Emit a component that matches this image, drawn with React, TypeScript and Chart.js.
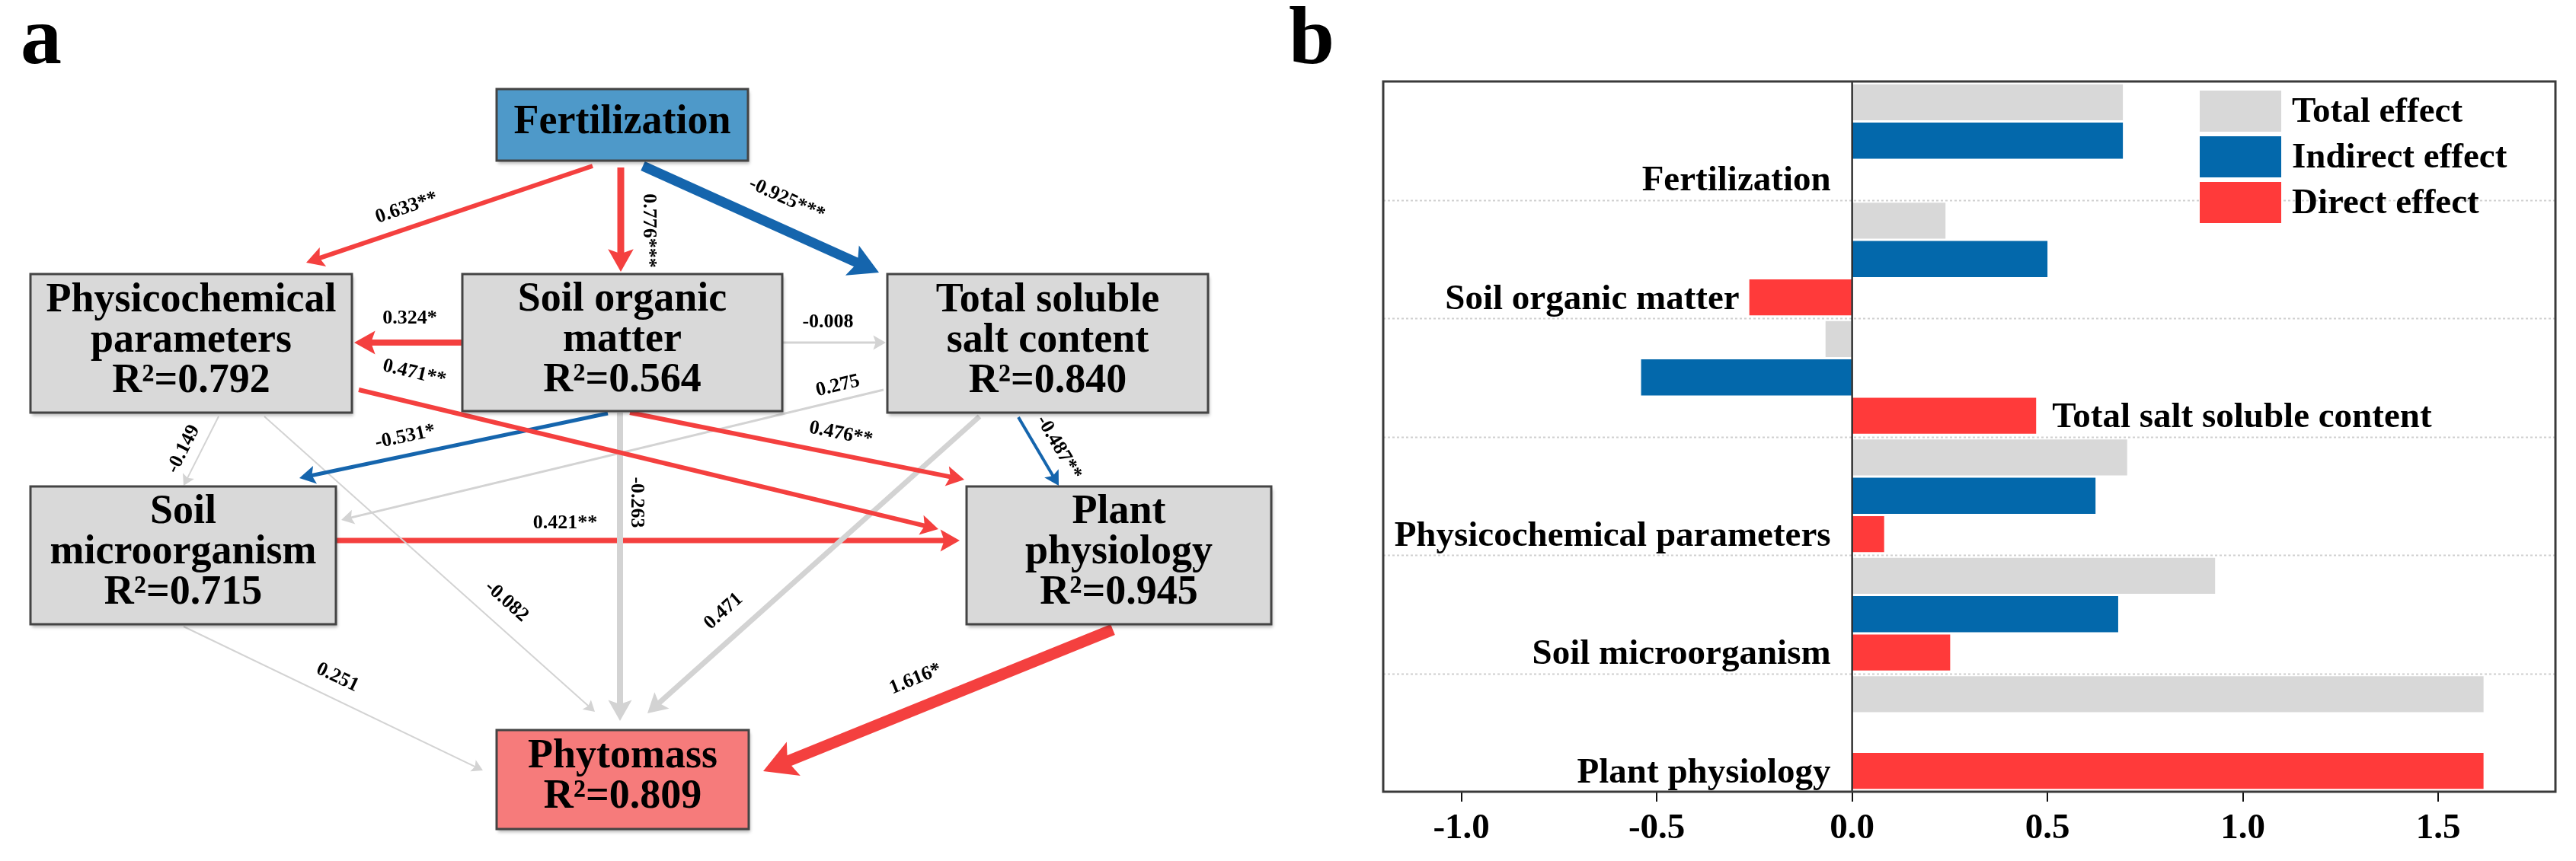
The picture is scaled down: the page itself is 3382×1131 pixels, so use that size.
import React, { useEffect, useRef } from 'react';
import { Chart, registerables } from 'chart.js';

Chart.register(...registerables);

const FONT = '"Liberation Serif", "Times New Roman", Times, serif';

// ---------- Panel b data ----------
const EFFECT_CATEGORIES = [
  'Fertilization',
  'Soil organic matter',
  'Total salt soluble content',
  'Physicochemical parameters',
  'Soil microorganism',
  'Plant physiology',
];
const TOTAL_EFFECT = [0.693, 0.239, -0.068, 0.704, 0.929, 1.616];
const INDIRECT_EFFECT = [0.693, 0.5, -0.54, 0.623, 0.681, 0];
const DIRECT_EFFECT = [0, -0.263, 0.471, 0.082, 0.251, 1.616];
const X_TICKS = [-1.0, -0.5, 0.0, 0.5, 1.0, 1.5];
const X_MIN = -1.2;
const X_MAX = 1.8;
const SERIES_NAMES = ['Total effect', 'Indirect effect', 'Direct effect'];
const LABEL_ANCHOR = ['axis', 'bar', 'bar', 'axis', 'axis', 'axis'];

// styles (panel b)
const SERIES_COLORS = ['#d8d8d8', '#0368ab', '#ff3a3a'];

// ---------- Panel a data ----------
const NODE_NAMES = [
  ['Fertilization'],
  ['Physicochemical', 'parameters'],
  ['Soil organic', 'matter'],
  ['Total soluble', 'salt content'],
  ['Soil', 'microorganism'],
  ['Plant', 'physiology'],
  ['Phytomass'],
];
const NODE_R2: (number | null)[] = [null, 0.792, 0.564, 0.84, 0.715, 0.945, 0.809];
const PATH_FROM = [0, 0, 0, 2, 2, 1, 2, 2, 3, 1, 1, 2, 3, 3, 4, 5, 4];
const PATH_TO = [1, 2, 3, 1, 3, 5, 5, 4, 4, 4, 6, 6, 6, 5, 5, 6, 6];
const PATH_COEF = [0.633, 0.776, -0.925, 0.324, -0.008, 0.471, 0.476, -0.531, 0.275, -0.149, -0.082, -0.263, 0.471, -0.487, 0.421, 1.616, 0.251];
const PATH_SIG = ['**', '***', '***', '*', '', '**', '**', '*', '', '', '', '', '', '**', '**', '*', ''];

// layout (panel a, diagram units)
const NODE_BOX = [
  [652, 117, 982, 211],
  [40, 360, 462, 542],
  [607, 360, 1027, 540],
  [1165, 360, 1586, 542],
  [40, 639, 441, 820],
  [1269, 639, 1669, 820],
  [652, 959, 983, 1089],
];
const NODE_FILL = ['#4e99c9', '#d9d9d9', '#d9d9d9', '#d9d9d9', '#d9d9d9', '#d9d9d9', '#f67b7b'];
// x1, y1, x2(tip), y2(tip), line width, label x, label y
const PATH_GEOM = [
  [778, 218, 402, 345, 6, 534, 273],
  [815, 220, 815, 357, 9, 852, 303],
  [844, 218, 1154, 358, 13, 1033, 262],
  [606, 450, 465, 450, 8, 538, 418],
  [1028, 450, 1163, 450, 3, 1087, 423],
  [471, 512, 1232, 695, 6, 544, 490],
  [827, 542, 1266, 630, 6, 1104, 570],
  [798, 543, 393, 628, 5, 532, 574],
  [1160, 512, 448, 683, 3, 1100, 507],
  [287, 547, 241, 638, 2, 241, 590],
  [347, 547, 781, 935, 2, 665, 790],
  [814, 542, 814, 947, 8, 836, 660],
  [1286, 547, 850, 937, 7, 950, 803],
  [1337, 548, 1390, 638, 4, 1390, 588],
  [441, 710, 1260, 710, 7, 742, 687],
  [1461, 827, 1002, 1013, 15, 1202, 892],
  [241, 823, 634, 1012, 2, 443, 890],
];
const RED = '#f4403f';
const BLUE = '#1565ad';
const GRAY = '#d3d3d3';

const PANEL_A_W = 1680;
const PANEL_H = 1131;
const PANEL_B_W = 3382 - PANEL_A_W;

function pathColor(i: number) {
  if (!PATH_SIG[i]) return GRAY;
  return PATH_COEF[i] > 0 ? RED : BLUE;
}
function headSize(w: number) {
  return { L: 10 + 2.2 * w, H: 6 + 1.2 * w };
}

const diagramPlugin = {
  id: 'diagram',
  afterDatasetsDraw(chart: any) {
    const { ctx, scales } = chart;
    const px = (v: number) => scales.x.getPixelForValue(v);
    const py = (v: number) => scales.y.getPixelForValue(v);
    ctx.save();
    // arrow heads
    PATH_GEOM.forEach((g, i) => {
      const [x1, y1, x2, y2, w] = g;
      const X1 = px(x1), Y1 = py(y1), X2 = px(x2), Y2 = py(y2);
      const len = Math.hypot(X2 - X1, Y2 - Y1);
      const ux = (X2 - X1) / len, uy = (Y2 - Y1) / len;
      const nx = -uy, ny = ux;
      const { L, H } = headSize(w);
      const bx = X2 - ux * L, by = Y2 - uy * L;
      const kx = X2 - ux * L * 0.8, ky = Y2 - uy * L * 0.8;
      ctx.fillStyle = pathColor(i);
      ctx.beginPath();
      ctx.moveTo(X2, Y2);
      ctx.lineTo(bx + nx * H, by + ny * H);
      ctx.lineTo(kx, ky);
      ctx.lineTo(bx - nx * H, by - ny * H);
      ctx.closePath();
      ctx.fill();
    });
    // boxes
    NODE_BOX.forEach((b, i) => {
      const x0 = px(b[0]), y0 = py(b[1]), x1 = px(b[2]), y1 = py(b[3]);
      ctx.save();
      ctx.shadowColor = 'rgba(0,0,0,0.28)';
      ctx.shadowOffsetX = 2;
      ctx.shadowOffsetY = 4;
      ctx.shadowBlur = 4;
      ctx.fillStyle = NODE_FILL[i];
      ctx.fillRect(x0, y0, x1 - x0, y1 - y0);
      ctx.restore();
      ctx.strokeStyle = '#444';
      ctx.lineWidth = 3;
      ctx.strokeRect(x0, y0, x1 - x0, y1 - y0);
      const lines = [...NODE_NAMES[i]];
      const r2 = NODE_R2[i];
      if (r2 !== null) lines.push('R\u00b2=' + r2.toFixed(3));
      ctx.fillStyle = '#000';
      ctx.font = `bold 54px ${FONT}`;
      ctx.textAlign = 'center';
      ctx.textBaseline = 'middle';
      const cx = (x0 + x1) / 2, cy = (y0 + y1) / 2 - 3;
      const sp = 53;
      lines.forEach((t, k) => {
        ctx.fillText(t, cx, cy + (k - (lines.length - 1) / 2) * sp);
      });
    });
    // coefficient labels
    ctx.font = `bold 26px ${FONT}`;
    ctx.fillStyle = '#000';
    ctx.textAlign = 'center';
    ctx.textBaseline = 'middle';
    PATH_GEOM.forEach((g, i) => {
      const [x1, y1, x2, y2, , lx, ly] = g;
      let ang = Math.atan2(py(y2) - py(y1), px(x2) - px(x1));
      if (ang > Math.PI / 2 + 1e-6) ang -= Math.PI;
      if (ang < -Math.PI / 2 + 1e-6) ang += Math.PI;
      const txt = PATH_COEF[i].toFixed(3) + PATH_SIG[i];
      ctx.save();
      ctx.translate(px(lx), py(ly));
      ctx.rotate(ang);
      ctx.fillText(txt, 0, 0);
      ctx.restore();
    });
    ctx.restore();
  },
  afterDraw(chart: any) {
    const { ctx } = chart;
    ctx.save();
    ctx.fillStyle = '#000';
    ctx.font = `bold 108px ${FONT}`;
    ctx.textAlign = 'left';
    ctx.textBaseline = 'alphabetic';
    ctx.fillText('a', 27, 83);
    ctx.restore();
  },
};

const effectsPlugin = {
  id: 'effects',
  beforeDatasetsDraw(chart: any) {
    const { ctx, chartArea: a, scales } = chart;
    const y = scales.y;
    ctx.save();
    ctx.strokeStyle = '#cfcfcf';
    ctx.lineWidth = 2;
    ctx.setLineDash([3, 3]);
    for (let i = 0; i < EFFECT_CATEGORIES.length - 1; i++) {
      const yy = Math.round((y.getPixelForValue(i) + y.getPixelForValue(i + 1)) / 2) + 0.5;
      ctx.beginPath();
      ctx.moveTo(a.left, yy);
      ctx.lineTo(a.right, yy);
      ctx.stroke();
    }
    ctx.restore();
  },
  afterDatasetsDraw(chart: any) {
    const { ctx, chartArea: a, scales } = chart;
    const x = scales.x;
    ctx.save();
    // zero line
    const x0 = x.getPixelForValue(0);
    ctx.strokeStyle = '#000';
    ctx.lineWidth = 2;
    ctx.beginPath();
    ctx.moveTo(x0, a.top);
    ctx.lineTo(x0, a.bottom);
    ctx.stroke();
    // frame
    ctx.strokeStyle = '#3a3a3a';
    ctx.lineWidth = 3;
    ctx.strokeRect(a.left, a.top, a.right - a.left, a.bottom - a.top);
    // category labels
    const meta = chart.getDatasetMeta(2);
    ctx.fillStyle = '#000';
    ctx.font = `bold 47px ${FONT}`;
    ctx.textBaseline = 'middle';
    EFFECT_CATEGORIES.forEach((c, i) => {
      const el = meta.data[i];
      const yy = el.y + 3;
      if (LABEL_ANCHOR[i] === 'bar' && DIRECT_EFFECT[i] < 0) {
        ctx.textAlign = 'right';
        ctx.fillText(c, el.x - 13, yy);
      } else if (LABEL_ANCHOR[i] === 'bar') {
        ctx.textAlign = 'left';
        ctx.fillText(c, el.x + 21, yy);
      } else {
        ctx.textAlign = 'right';
        ctx.fillText(c, x0 - 28, yy);
      }
    });
    // legend
    const bx = a.right - 467;
    SERIES_NAMES.forEach((n, i) => {
      const by = a.top + 12 + 60 * i;
      ctx.fillStyle = SERIES_COLORS[i];
      ctx.fillRect(bx, by, 107, 54);
      ctx.fillStyle = '#000';
      ctx.textAlign = 'left';
      ctx.textBaseline = 'middle';
      ctx.fillText(n, bx + 121, by + 29);
    });
    ctx.restore();
  },
  afterDraw(chart: any) {
    const { ctx } = chart;
    ctx.save();
    ctx.fillStyle = '#000';
    ctx.font = `bold 108px ${FONT}`;
    ctx.textAlign = 'left';
    ctx.textBaseline = 'alphabetic';
    ctx.fillText('b', 12, 83);
    ctx.restore();
  },
};

function PathDiagram() {
  const ref = useRef<HTMLCanvasElement>(null);
  useEffect(() => {
    const datasets = PATH_GEOM.map((g, i) => {
      const [x1, y1, x2, y2, w] = g;
      const len = Math.hypot(x2 - x1, y2 - y1);
      const { L } = headSize(w);
      const ex = x2 - ((x2 - x1) / len) * L * 0.75;
      const ey = y2 - ((y2 - y1) / len) * L * 0.75;
      return {
        label: `${NODE_NAMES[PATH_FROM[i]].join(' ')} -> ${NODE_NAMES[PATH_TO[i]].join(' ')}`,
        data: [{ x: x1, y: y1 }, { x: ex, y: ey }],
        showLine: true,
        borderColor: pathColor(i),
        backgroundColor: pathColor(i),
        borderWidth: w,
        borderCapStyle: 'butt',
        pointRadius: 0,
        pointHoverRadius: 0,
        tension: 0,
        clip: false,
      };
    });
    const chart = new Chart(ref.current as HTMLCanvasElement, {
      type: 'scatter',
      data: { datasets } as any,
      options: {
        responsive: false,
        animation: false,
        events: [],
        layout: { padding: 0 },
        plugins: { legend: { display: false }, tooltip: { enabled: false } },
        scales: {
          x: { type: 'linear', display: false, min: 0, max: PANEL_A_W },
          y: { type: 'linear', display: false, min: 0, max: PANEL_H, reverse: true },
        },
      } as any,
      plugins: [diagramPlugin],
    });
    return () => chart.destroy();
  }, []);
  return (
    <canvas
      ref={ref}
      width={PANEL_A_W}
      height={PANEL_H}
      style={{ position: 'absolute', left: 0, top: 0, width: PANEL_A_W, height: PANEL_H }}
    />
  );
}

function EffectsChart() {
  const ref = useRef<HTMLCanvasElement>(null);
  useEffect(() => {
    const series = [TOTAL_EFFECT, INDIRECT_EFFECT, DIRECT_EFFECT];
    const chart = new Chart(ref.current as HTMLCanvasElement, {
      type: 'bar',
      data: {
        labels: EFFECT_CATEGORIES,
        datasets: series.map((d, i) => ({
          label: SERIES_NAMES[i],
          data: d,
          backgroundColor: SERIES_COLORS[i],
          borderWidth: 0,
          categoryPercentage: 0.97,
          barPercentage: 0.94,
        })),
      },
      options: {
        indexAxis: 'y',
        responsive: false,
        animation: false,
        events: [],
        layout: { padding: { left: 136, right: 27, top: 107, bottom: 0 } },
        plugins: { legend: { display: false }, tooltip: { enabled: false } },
        scales: {
          x: {
            type: 'linear',
            min: X_MIN,
            max: X_MAX,
            afterBuildTicks: (s: any) => {
              s.ticks = X_TICKS.map((v) => ({ value: v }));
            },
            afterFit: (s: any) => {
              s.height = 91;
            },
            border: { display: false },
            grid: { drawOnChartArea: false, drawTicks: true, tickLength: 13, color: '#111', lineWidth: 2 },
            ticks: {
              color: '#000',
              font: { family: FONT, size: 47, weight: 'bold' },
              padding: 8,
              maxRotation: 0,
              autoSkip: false,
              callback: (v: any) => Number(v).toFixed(1),
            },
          },
          y: { type: 'category', display: false },
        },
      } as any,
      plugins: [effectsPlugin],
    });
    return () => chart.destroy();
  }, []);
  return (
    <canvas
      ref={ref}
      width={PANEL_B_W}
      height={PANEL_H}
      style={{ position: 'absolute', left: PANEL_A_W, top: 0, width: PANEL_B_W, height: PANEL_H }}
    />
  );
}

export default function App() {
  useEffect(() => {
    document.body.style.margin = '0';
    document.body.style.background = '#fff';
  }, []);
  return (
    <div style={{ position: 'absolute', left: 0, top: 0, width: 3382, height: PANEL_H, background: '#fff', overflow: 'hidden' }}>
      <PathDiagram />
      <EffectsChart />
    </div>
  );
}
